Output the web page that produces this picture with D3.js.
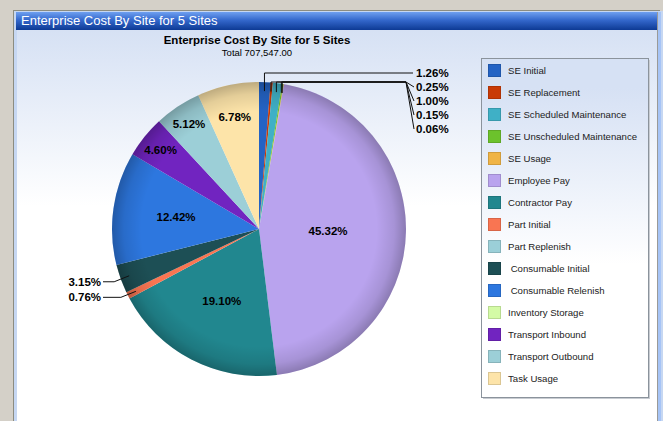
<!DOCTYPE html>
<html>
<head>
<meta charset="utf-8">
<script src="https://cdn.jsdelivr.net/npm/d3@7"></script>
<style>
  html, body { margin: 0; padding: 0; background: #d4d0c8; overflow: hidden; }
  svg { display: block; font-family: "Liberation Sans", Arial, sans-serif; }
</style>
</head>
<body>
<div id="chart"></div>
<script>
// categories, in draw order (clockwise from 12 o'clock)
const categories = [
  "SE Initial", "SE Replacement", "SE Scheduled Maintenance", "SE Unscheduled Maintenance",
  "SE Usage", "Employee Pay", "Contractor Pay", "Part Initial", "Part Replenish",
  " Consumable Initial", " Consumable Relenish", "Inventory Storage", "Transport Inbound",
  "Transport Outbound", "Task Usage"
];
// share of total, percent
const percents = [1.26, 0.25, 1.00, 0.15, 0.06, 45.32, 19.10, 0.76, 0, 3.15, 12.42, 0, 4.60, 5.12, 6.78];
const colors = [
  "#2463c4", "#c93a06", "#3fb0c6", "#6cc22c", "#f0b446", "#b9a3ee", "#21878f", "#f97552",
  "#9bcfd8", "#1d4f55", "#2d77df", "#d4fba6", "#7124c0", "#9ccfd7", "#fde4a9"
];
const chartTitle = "Enterprise Cost By Site for 5 Sites";
const subTitle = "Total 707,547.00";

const width = 663, height = 421;
const svg = d3.select("#chart").append("svg")
  .attr("width", width)
  .attr("height", height);

const defs = svg.append("defs");

// window frame
const tb = defs.append("linearGradient").attr("id", "titlebar").attr("x1", 0).attr("y1", 0).attr("x2", 0).attr("y2", 1);
tb.append("stop").attr("offset", "0%").attr("stop-color", "#6e9ff0");
tb.append("stop").attr("offset", "45%").attr("stop-color", "#3468cc");
tb.append("stop").attr("offset", "100%").attr("stop-color", "#0d3a94");

const bg = defs.append("linearGradient").attr("id", "bodybg")
  .attr("gradientUnits", "userSpaceOnUse")
  .attr("x1", 0).attr("y1", 30).attr("x2", 0).attr("y2", 421);
bg.append("stop").attr("offset", "0%").attr("stop-color", "#d6e1f4");
bg.append("stop").attr("offset", "45%").attr("stop-color", "#ffffff");
bg.append("stop").attr("offset", "100%").attr("stop-color", "#ffffff");

svg.append("rect").attr("width", width).attr("height", height).attr("fill", "#d4d0c8");
svg.append("rect").attr("x", 13).attr("y", 10).attr("width", 647).attr("height", 411).attr("fill", "#8c8c80");
svg.append("rect").attr("x", 14).attr("y", 11).attr("width", 649).attr("height", 410).attr("fill", "#c6d7f2");
svg.append("rect").attr("x", 16).attr("y", 12).attr("width", 641).attr("height", 18).attr("fill", "url(#titlebar)");
svg.append("rect").attr("x", 17).attr("y", 30).attr("width", 640).attr("height", 391).attr("fill", "url(#bodybg)");
svg.append("rect").attr("x", 657).attr("y", 12).attr("width", 1).attr("height", 409).attr("fill", "#9a9a98");
svg.append("rect").attr("x", 658).attr("y", 12).attr("width", 3).attr("height", 409).attr("fill", "#a6c4f6");

svg.append("text")
  .attr("x", 21).attr("y", 25)
  .attr("fill", "#ffffff")
  .style("font-size", "13px")
  .text(chartTitle);

// chart titles
svg.append("text")
  .attr("x", 257).attr("y", 44)
  .attr("text-anchor", "middle")
  .style("font-size", "11.5px")
  .style("font-weight", "bold")
  .text(chartTitle);
svg.append("text")
  .attr("x", 257).attr("y", 56)
  .attr("text-anchor", "middle")
  .style("font-size", "9.5px")
  .text(subTitle);

// pie
const cx = 259, cy = 229, r = 147;
const data = categories.map((c, i) => ({ name: c, pct: percents[i], color: colors[i] }));

const pie = d3.pie().sort(null).value(d => d.pct);
const arcs = pie(data);
const arc = d3.arc().innerRadius(0).outerRadius(r);

const g = svg.append("g").attr("transform", `translate(${cx},${cy})`);

g.selectAll("path.slice")
  .data(arcs)
  .enter()
  .append("path")
  .attr("class", "slice")
  .attr("d", arc)
  .attr("fill", d => d.data.color);

// edge shading
const rg = defs.append("radialGradient").attr("id", "shade");
rg.append("stop").attr("offset", "0%").attr("stop-color", "#000").attr("stop-opacity", 0);
rg.append("stop").attr("offset", "80%").attr("stop-color", "#000").attr("stop-opacity", 0);
rg.append("stop").attr("offset", "92%").attr("stop-color", "#000").attr("stop-opacity", 0.1);
rg.append("stop").attr("offset", "100%").attr("stop-color", "#000").attr("stop-opacity", 0.25);
g.append("circle").attr("r", r).attr("fill", "url(#shade)");

// labels inside big slices
const labelRadius = {
  "Employee Pay": 0.47, "Contractor Pay": 0.55, " Consumable Relenish": 0.57,
  "Transport Inbound": 0.86, "Transport Outbound": 0.86, "Task Usage": 0.78
};
const fmt = d => d.data.pct.toFixed(2) + "%";

g.selectAll("text.inner")
  .data(arcs.filter(d => d.data.pct >= 4))
  .enter()
  .append("text")
  .attr("class", "inner")
  .attr("transform", d => {
    const a = (d.startAngle + d.endAngle) / 2;
    const lr = r * labelRadius[d.data.name];
    return `translate(${Math.sin(a) * lr},${-Math.cos(a) * lr})`;
  })
  .attr("text-anchor", "middle")
  .attr("dy", "0.35em")
  .style("font-size", "11.5px")
  .style("font-weight", "bold")
  .text(fmt);

// leader labels for small slices
const anchorPt = d => {
  const a = (d.startAngle + d.endAngle) / 2;
  return [Math.sin(a) * (r - 9), -Math.cos(a) * (r - 9)];
};

const topGroup = arcs.slice(0, 5);
const labelX = 416 - cx;
topGroup.forEach((d, i) => {
  const [px, py] = anchorPt(d);
  const ly = -r - 9 + i * 14;
  let pts;
  if (i === 0) {
    pts = [[px, py], [px, ly], [labelX - 3, ly]];
  } else {
    pts = [[px, py], [px, -r], [406 - cx, -r], [labelX - 2, ly]];
  }
  g.append("path")
    .attr("d", d3.line()(pts))
    .attr("fill", "none")
    .attr("stroke", "#111")
    .attr("stroke-width", 1);
  g.append("text")
    .attr("x", labelX).attr("y", ly)
    .attr("dy", "0.35em")
    .style("font-size", "11.5px")
    .style("font-weight", "bold")
    .text(fmt(d));
});

const leftGroup = arcs.filter(d => d.data.name === "Part Initial" || d.data.name === " Consumable Initial");
leftGroup.forEach(d => {
  const [px, py] = anchorPt(d);
  const ly = py + 6;
  const pts = [[103 - cx, ly], [px - 15, ly], [px, py]];
  g.append("path")
    .attr("d", d3.line()(pts))
    .attr("fill", "none")
    .attr("stroke", "#111")
    .attr("stroke-width", 1);
  g.append("text")
    .attr("x", 101 - cx).attr("y", ly)
    .attr("dy", "0.35em")
    .attr("text-anchor", "end")
    .style("font-size", "11.5px")
    .style("font-weight", "bold")
    .text(fmt(d));
});

// legend
const lg = svg.append("g").attr("transform", "translate(481,58)");
lg.append("rect")
  .attr("x", 2).attr("y", 2).attr("width", 167).attr("height", 339)
  .attr("fill", "#c8ccd2");
lg.append("rect")
  .attr("x", 0.5).attr("y", 0.5).attr("width", 167).attr("height", 339)
  .attr("fill", "url(#bodybg)")
  .attr("transform", "translate(0,0)")
  .attr("stroke", "#8b939c");

const legendY = d3.scalePoint().domain(categories).range([13, 13 + 22 * 14]);
const items = lg.selectAll("g.item")
  .data(data)
  .enter()
  .append("g")
  .attr("class", "item")
  .attr("transform", d => `translate(0,${legendY(d.name)})`);
items.append("rect")
  .attr("x", 7.5).attr("y", -6.5).attr("width", 12).attr("height", 12)
  .attr("fill", d => d.color)
  .attr("stroke", d => d3.color(d.color).darker(0.4));
items.append("text")
  .attr("x", 27).attr("dy", "0.35em")
  .style("font-size", "9.6px")
  .style("white-space", "pre")
  .attr("fill", "#222")
  .text(d => d.name);
</script>
</body>
</html>
